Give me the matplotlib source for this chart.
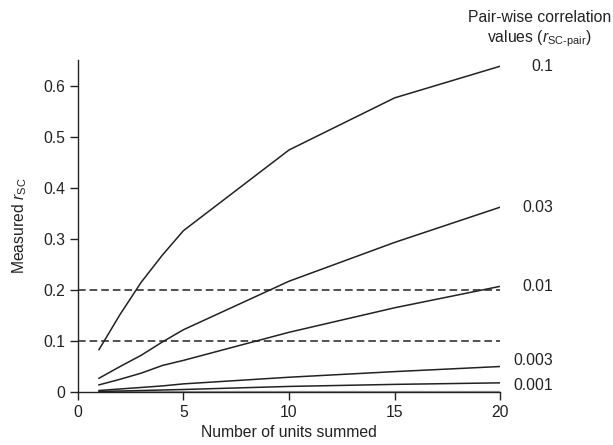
import matplotlib
matplotlib.use("Agg")
import matplotlib.pyplot as plt

plt.rcParams["font.family"] = ["Liberation Sans", "DejaVu Sans"]
plt.rcParams["mathtext.fontset"] = "custom"
plt.rcParams["mathtext.rm"] = "Liberation Sans"
plt.rcParams["mathtext.it"] = "Liberation Sans:italic"

# data
units = [1, 2, 3, 4, 5, 10, 15, 20]
pair_r = ["0.1", "0.03", "0.01", "0.003", "0.001"]
r_01 = [0.083, 0.152, 0.215, 0.268, 0.316, 0.474, 0.576, 0.638]
r_003 = [0.027, 0.050, 0.072, 0.098, 0.122, 0.217, 0.293, 0.362]
r_001 = [0.014, 0.025, 0.037, 0.052, 0.062, 0.117, 0.165, 0.207]
r_0003 = [0.003, 0.006, 0.009, 0.012, 0.016, 0.029, 0.040, 0.050]
r_0001 = [0.001, 0.002, 0.003, 0.004, 0.005, 0.011, 0.015, 0.018]
r_zero = [0, 0, 0, 0, 0, 0, 0, 0]
series = [r_01, r_003, r_001, r_0003, r_0001]
thresholds = [0.1, 0.2]

FS = 11.3
INK = "#222222"
fig = plt.figure(figsize=(6.13, 4.45), dpi=100)
ax = fig.add_axes([0.127, 0.119, 0.689, 0.746])

ax.plot(units, r_zero, color="#999999", lw=1.6, solid_capstyle="butt")
for ys in series:
    ax.plot(units, ys, color=INK, lw=1.1)
for t in thresholds:
    ax.plot([0, 20], [t, t], color=INK, lw=1.1, dashes=(5, 2.6))

# label offsets so the two lowest tags don't collide
label_dy = [0, 0, 0, 0.012, -0.005]
for name, ys, dy in zip(pair_r, series, label_dy):
    ax.text(22.5, ys[-1] + dy, name, ha="right", va="center", fontsize=FS,
            color=INK)

# legend heading, two lines
ax.text(21.85, 0.733, "Pair-wise correlation", ha="center", va="center",
        fontsize=FS, color=INK, clip_on=False)
ax.text(21.85, 0.691, "values ($r_{\\mathrm{SC\u2010pair}}$)", ha="center",
        va="center", fontsize=FS, color=INK, clip_on=False)

ax.set_xlim(0, 20)
ax.set_ylim(0, 0.65)
ax.set_xticks([0, 5, 10, 15, 20])
ax.set_yticks([0, 0.1, 0.2, 0.3, 0.4, 0.5, 0.6])
ax.set_yticklabels(["0", "0.1", "0.2", "0.3", "0.4", "0.5", "0.6"])
ax.tick_params(direction="out", length=6, width=1, labelsize=FS,
               colors=INK, pad=3)
for s in ["top", "right"]:
    ax.spines[s].set_visible(False)
for s in ["left", "bottom"]:
    ax.spines[s].set_linewidth(1)
    ax.spines[s].set_color(INK)

ax.set_xlabel("Number of units summed", fontsize=FS, color=INK, labelpad=4)
ax.set_ylabel("Measured $r_{\\mathrm{SC}}$", fontsize=FS, color=INK,
              labelpad=10)

fig.savefig("out.png", dpi=100)
